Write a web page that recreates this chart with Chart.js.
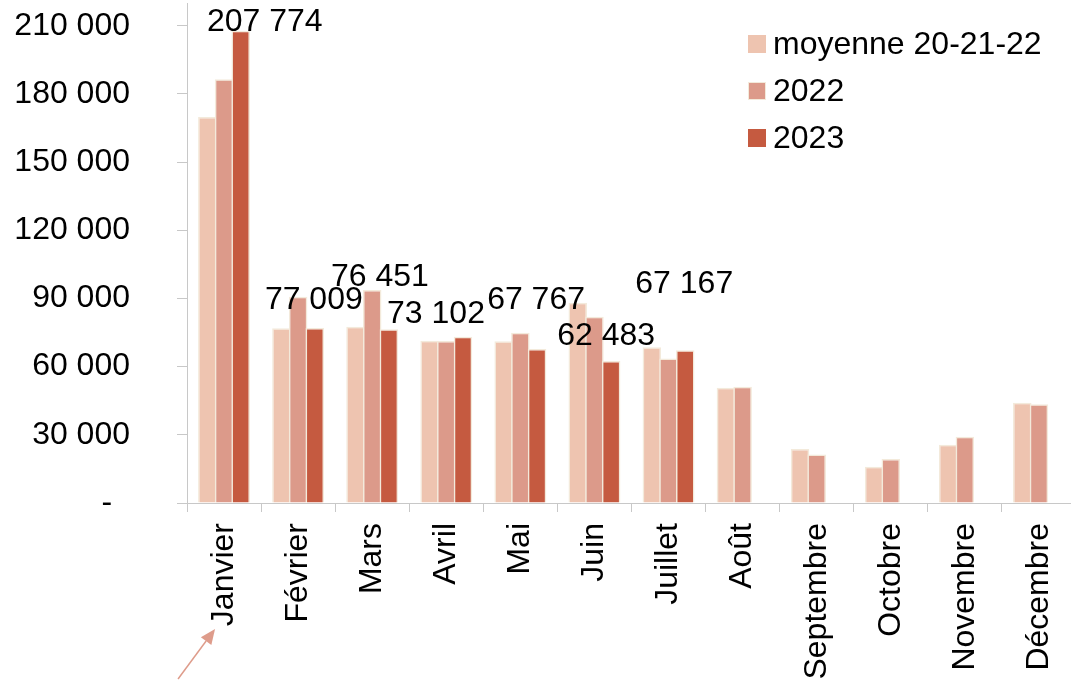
<!DOCTYPE html>
<html>
<head>
<meta charset="utf-8">
<script src="https://cdn.jsdelivr.net/npm/chart.js@4.4.1/dist/chart.umd.min.js"></script>
<style>
    html, body { margin: 0; padding: 0; background: #fff; overflow: hidden; }
    #wrap { position: relative; width: 1071px; height: 681px; overflow: hidden; }
    #ourChart { position: absolute; left: 0; top: 0; }
    #legend { position: absolute; left: 748px; top: 20px; font-family: "Liberation Sans", Arial, sans-serif; font-size: 32px; color: #000; }
    .item { display: flex; align-items: center; height: 47px; white-space: nowrap; }
    .box { width: 18px; height: 18px; box-sizing: border-box; margin-right: 7px; }
</style>
</head>
<body>
<div id="wrap">
    <canvas id="ourChart" width="1076" height="681"></canvas>
    <div id="legend"></div>
</div>
<script>
const months = ['Janvier', 'Février', 'Mars', 'Avril', 'Mai', 'Juin', 'Juillet', 'Août', 'Septembre', 'Octobre', 'Novembre', 'Décembre'];
const seriesNames = ['moyenne 20-21-22', '2022', '2023'];
const moyenne = [169800, 76900, 77500, 71400, 71200, 88100, 68500, 50700, 23800, 15900, 25600, 44100];
const values2022 = [186500, 90800, 93700, 71300, 74900, 81900, 63600, 51100, 21300, 19400, 29100, 43400];
const values2023 = [207774, 77009, 76451, 73102, 67767, 62483, 67167, null, null, null, null, null];
const yTicks = [0, 30000, 60000, 90000, 120000, 150000, 180000, 210000];

// where each 2023 label sits, relative to the top of its bar
const labelShift = [[24, -9], [-1, -28], [-9, -52], [-27, -23], [-1, -49], [-5, -25], [-1, -66]];

const colors = ['#EEC4B0', '#DC9A8A', '#C55A40'];
const edge = '#F3EADB';
const fontFamily = '"Liberation Sans", Arial, sans-serif';

Chart.defaults.font.family = fontFamily;
Chart.defaults.font.size = 32;
Chart.defaults.color = '#000';

function fmt(v) {
    return String(v).replace(/\B(?=(\d{3})+(?!\d))/g, ' ');
}

// later series on top, like the original
const drawOrder = {
    id: 'drawOrder',
    beforeDatasetsDraw(chart) {
        chart.getSortedVisibleDatasetMetas().forEach(meta => meta.controller.draw());
        return false;
    }
};

const valueLabels = {
    id: 'valueLabels',
    afterDraw(chart) {
        const ctx = chart.ctx;
        const meta = chart.getDatasetMeta(2);
        ctx.save();
        ctx.font = '32px ' + fontFamily;
        ctx.fillStyle = '#000';
        ctx.textAlign = 'center';
        ctx.textBaseline = 'middle';
        meta.data.forEach((bar, i) => {
            if (values2023[i] == null || !labelShift[i]) return;
            ctx.fillText(fmt(values2023[i]), bar.x + labelShift[i][0], bar.y + labelShift[i][1]);
        });
        ctx.restore();
    }
};

const arrow = {
    id: 'arrow',
    afterDraw(chart) {
        const ctx = chart.ctx;
        const x = chart.scales.x;
        const tip = { x: x.getPixelForValue(0) - 9, y: x.top + 126 };
        const tail = { x: tip.x - 37, y: tip.y + 50 };
        const len = Math.hypot(tip.x - tail.x, tip.y - tail.y);
        const ux = (tip.x - tail.x) / len, uy = (tip.y - tail.y) / len;
        const bx = tip.x - ux * 15, by = tip.y - uy * 15;
        ctx.save();
        ctx.strokeStyle = '#DE9C8B';
        ctx.fillStyle = '#DE9C8B';
        ctx.lineWidth = 1.5;
        ctx.beginPath();
        ctx.moveTo(tail.x, tail.y);
        ctx.lineTo(bx, by);
        ctx.stroke();
        ctx.beginPath();
        ctx.moveTo(tip.x, tip.y);
        ctx.lineTo(bx - uy * 6.5, by + ux * 6.5);
        ctx.lineTo(bx + uy * 6.5, by - ux * 6.5);
        ctx.closePath();
        ctx.fill();
        ctx.restore();
    }
};

const seriesData = [moyenne, values2022, values2023];

const chart = new Chart(document.getElementById('ourChart'), {
    type: 'bar',
    data: {
        labels: months,
        datasets: seriesData.map((d, i) => ({
            label: seriesNames[i],
            data: d,
            backgroundColor: colors[i],
            borderColor: edge,
            borderWidth: 1.5,
            categoryPercentage: 0.676,
            barPercentage: 1.11,
        }))
    },
    options: {
        responsive: false,
        animation: false,
        layout: { padding: { left: 14, top: 3, right: 0, bottom: 0 } },
        plugins: {
            legend: { display: false },
            tooltip: { enabled: false },
        },
        scales: {
            x: {
                grid: { drawOnChartArea: false, tickLength: 9, color: '#C8C8C8', offset: true },
                border: { color: '#C8C8C8' },
                ticks: { minRotation: 90, maxRotation: 90, padding: 11, autoSkip: false },
                afterFit(scale) {
                    scale.height = 178;
                    scale.paddingLeft = 0;
                    scale.paddingRight = 0;
                }
            },
            y: {
                min: 0,
                max: 220000,
                grid: { drawOnChartArea: false, tickLength: 10, color: '#C8C8C8' },
                border: { color: '#C8C8C8' },
                ticks: {
                    padding: 47,
                    callback: v => v === 0 ? '-  ' : fmt(v)
                },
                afterBuildTicks(scale) {
                    scale.ticks = yTicks.map(v => ({ value: v }));
                },
                afterFit(scale) {
                    scale.width = 173;
                    scale.paddingTop = 0;
                    scale.paddingBottom = 0;
                }
            }
        }
    },
    plugins: [drawOrder, valueLabels, arrow]
});

// legend, stacked in the top right corner
const legend = document.getElementById('legend');
chart.data.datasets.forEach(ds => {
    const item = document.createElement('div');
    item.className = 'item';
    const box = document.createElement('span');
    box.className = 'box';
    box.style.background = ds.backgroundColor;
    box.style.border = '1.5px solid ' + (ds.label === '2022' ? edge : ds.backgroundColor);
    const text = document.createElement('span');
    text.textContent = ds.label;
    item.appendChild(box);
    item.appendChild(text);
    legend.appendChild(item);
});
</script>
</body>
</html>
